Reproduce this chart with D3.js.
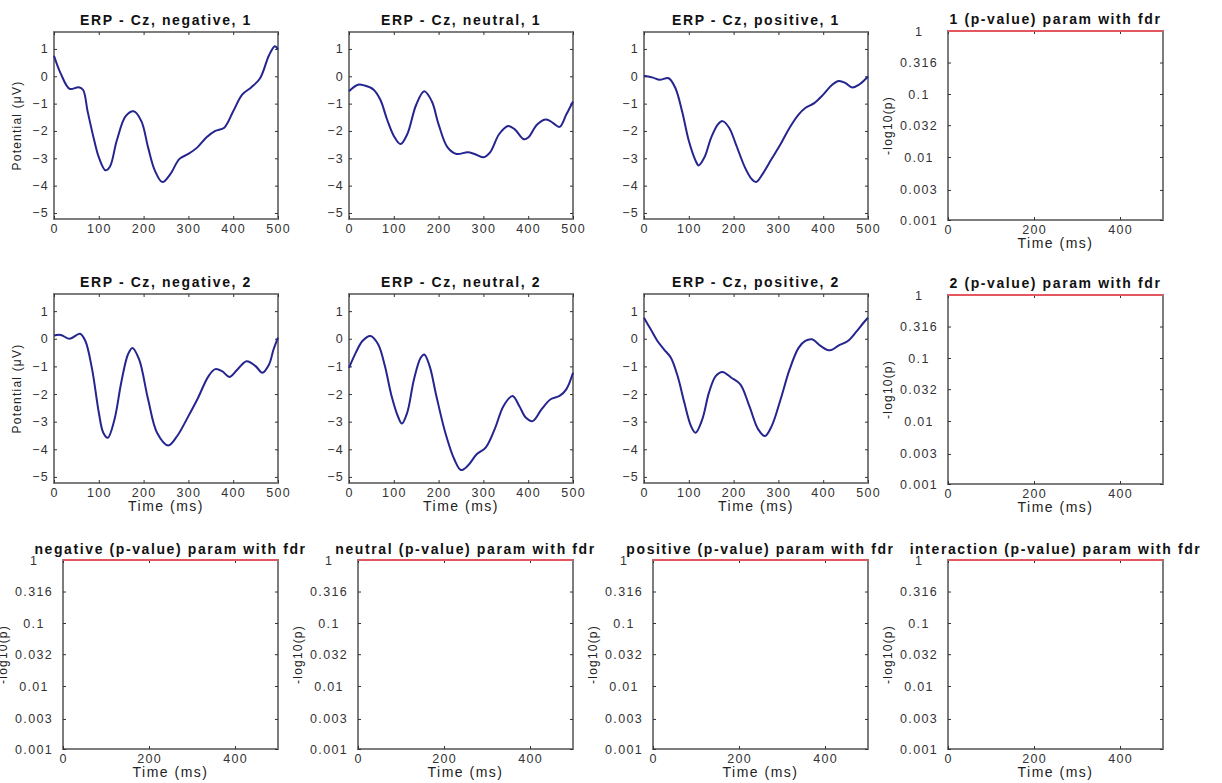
<!DOCTYPE html>
<html>
<head>
<meta charset="utf-8">
<script src="https://cdn.jsdelivr.net/npm/d3@7"></script>
<style>
  html, body { margin: 0; padding: 0; background: #fff; }
  svg { display: block; font-family: "Liberation Sans", Arial, Helvetica, sans-serif; }
  .title { font-size: 14px; font-weight: bold; letter-spacing: 1.6px; fill: #111; }
  .xlabel { font-size: 14px; letter-spacing: 1.5px; fill: #222; }
  .ylabel { font-size: 12px; letter-spacing: 1.2px; fill: #222; }
  .tick text { font-size: 12.5px; letter-spacing: 1.3px; fill: #333; font-family: "Liberation Sans", Arial, sans-serif; }
  .tick line { stroke: #333; stroke-width: 1; }
</style>
</head>
<body>
<svg id="fig" width="1222" height="783"></svg>
<script>
// ERP traces at electrode Cz, [time (ms), potential (µV)]
const negative1 = [[0,0.75],[15,0.1],[35,-0.46],[55,-0.4],[65,-0.5],[75,-1.28],[90,-2.36],[100,-2.96],[115,-3.44],[125,-3.3],[140,-2.36],[160,-1.46],[178,-1.28],[195,-1.64],[210,-2.6],[225,-3.44],[242,-3.87],[260,-3.57],[280,-3.02],[300,-2.84],[320,-2.6],[340,-2.24],[360,-2.0],[380,-1.88],[400,-1.28],[420,-0.67],[440,-0.41],[460,-0.07],[480,0.77],[493,1.1],[500,0.98]];
const neutral1 = [[0,-0.55],[20,-0.31],[35,-0.34],[55,-0.49],[70,-0.86],[85,-1.58],[100,-2.18],[115,-2.48],[130,-2.12],[150,-1.04],[168,-0.55],[185,-0.92],[200,-1.76],[220,-2.6],[240,-2.84],[265,-2.78],[280,-2.84],[300,-2.96],[315,-2.78],[335,-2.12],[355,-1.82],[370,-1.94],[390,-2.3],[400,-2.24],[420,-1.76],[440,-1.58],[455,-1.7],[470,-1.85],[485,-1.4],[500,-0.92]];
const positive1 = [[0,0.02],[20,-0.05],[35,-0.13],[55,-0.07],[70,-0.43],[85,-1.28],[100,-2.36],[115,-3.08],[122,-3.26],[135,-2.96],[150,-2.24],[165,-1.76],[175,-1.64],[190,-1.88],[205,-2.48],[225,-3.32],[240,-3.75],[250,-3.87],[265,-3.57],[285,-3.02],[305,-2.48],[325,-1.88],[345,-1.4],[360,-1.16],[380,-0.98],[400,-0.67],[420,-0.31],[435,-0.17],[450,-0.25],[465,-0.41],[480,-0.31],[500,-0.01]];
const negative2 = [[0,0.12],[15,0.14],[35,0.0],[58,0.18],[70,-0.08],[85,-1.1],[100,-2.67],[110,-3.4],[120,-3.58],[135,-2.92],[150,-1.59],[165,-0.57],[175,-0.33],[190,-0.75],[210,-2.19],[230,-3.4],[255,-3.86],[275,-3.52],[300,-2.8],[320,-2.19],[345,-1.35],[360,-1.1],[375,-1.17],[392,-1.38],[410,-1.1],[430,-0.81],[450,-0.99],[465,-1.23],[480,-0.93],[490,-0.39],[500,0.04]];
const neutral2 = [[0,-1.05],[15,-0.51],[30,-0.08],[48,0.1],[65,-0.2],[80,-0.98],[95,-2.07],[110,-2.84],[118,-3.07],[130,-2.67],[145,-1.47],[160,-0.69],[168,-0.57],[180,-0.99],[195,-2.07],[215,-3.4],[235,-4.36],[250,-4.75],[265,-4.6],[285,-4.18],[305,-3.94],[325,-3.28],[345,-2.43],[365,-2.07],[380,-2.43],[395,-2.86],[410,-2.98],[430,-2.55],[450,-2.19],[470,-2.07],[485,-1.83],[500,-1.23]];
const positive2 = [[0,0.76],[15,0.34],[30,-0.08],[45,-0.39],[60,-0.69],[75,-1.35],[90,-2.31],[105,-3.16],[115,-3.4],[130,-2.92],[145,-1.95],[160,-1.35],[175,-1.2],[195,-1.41],[215,-1.65],[235,-2.43],[255,-3.28],[270,-3.52],[285,-3.16],[305,-2.19],[325,-1.11],[345,-0.33],[360,-0.08],[375,-0.02],[395,-0.27],[415,-0.42],[435,-0.24],[455,-0.08],[475,0.28],[490,0.58],[500,0.76]];

// FDR-corrected p-values over time for each effect (nothing significant)
const pTimes = [0, 100, 200, 300, 400, 500];
const pGroup1 = [1, 1, 1, 1, 1, 1];
const pGroup2 = [1, 1, 1, 1, 1, 1];
const pNegative = [1, 1, 1, 1, 1, 1];
const pNeutral = [1, 1, 1, 1, 1, 1];
const pPositive = [1, 1, 1, 1, 1, 1];
const pInteraction = [1, 1, 1, 1, 1, 1];

// Axis ticks
const erpXTicks = [0, 100, 200, 300, 400, 500];
const erpYTicks = [1, 0, -1, -2, -3, -4, -5];
const pXTicks = [0, 200, 400];
const pYTicks = [1, 0.316, 0.1, 0.032, 0.01, 0.003, 0.001];
const pYLabels = ["1", "0.316", "0.1", "0.032", "0.01", "0.003", "0.001"];

const svg = d3.select("#fig");

function addAxes(g, x, y, w, h, xt, yt, opts) {
  g.append("rect").attr("x", 0).attr("y", 0).attr("width", w).attr("height", h)
    .attr("fill", "#fff").attr("stroke", "#7d7d7d").attr("stroke-width", 2);
  const bottom = d3.axisBottom(x).tickValues(xt).tickSize(-3).tickPadding(5.5);
  const top = d3.axisTop(x).tickValues(xt).tickSize(-3).tickFormat("");
  const left = d3.axisLeft(y).tickValues(yt).tickSize(-3).tickPadding(5);
  const right = d3.axisRight(y).tickValues(yt).tickSize(-3).tickFormat("");
  if (opts.yFormat) left.tickFormat(opts.yFormat);
  g.append("g").attr("transform", `translate(0,${h})`).call(bottom);
  g.append("g").call(top);
  const gl = g.append("g").call(left);
  g.append("g").attr("transform", `translate(${w},0)`).call(right);
  if (opts.centerY) gl.selectAll("text").attr("text-anchor", "middle").attr("x", -29);
  g.selectAll(".domain").remove();
}

const line = d3.line().curve(d3.curveCatmullRom.alpha(0.5));

// ERP panels
const erpPanels = [
  { data: negative1, title: "ERP - Cz, negative, 1", left: 54, top: 32, bottom: 219, ylab: true, xlab: false },
  { data: neutral1, title: "ERP - Cz, neutral, 1", left: 349, top: 32, bottom: 219, ylab: false, xlab: false },
  { data: positive1, title: "ERP - Cz, positive, 1", left: 644, top: 32, bottom: 219, ylab: false, xlab: false },
  { data: negative2, title: "ERP - Cz, negative, 2", left: 54, top: 294, bottom: 483, ylab: true, xlab: true },
  { data: neutral2, title: "ERP - Cz, neutral, 2", left: 349, top: 294, bottom: 483, ylab: false, xlab: true },
  { data: positive2, title: "ERP - Cz, positive, 2", left: 644, top: 294, bottom: 483, ylab: false, xlab: true }
];

erpPanels.forEach(p => {
  const w = 224, h = p.bottom - p.top;
  const x = d3.scaleLinear().domain([0, 500]).range([0, w]);
  const y = d3.scaleLinear().domain([-5.22, 1.62]).range([h, 0]);
  const g = svg.append("g").attr("transform", `translate(${p.left},${p.top})`);
  addAxes(g, x, y, w, h, erpXTicks, erpYTicks, { yFormat: d3.format("d") });
  g.append("path").datum(p.data)
    .attr("d", line.x(d => x(d[0])).y(d => y(d[1])))
    .attr("fill", "none").attr("stroke", "#25258f").attr("stroke-width", 2);
  g.append("text").attr("class", "title").attr("x", w / 2).attr("y", -7)
    .attr("text-anchor", "middle").text(p.title);
  if (p.xlab) g.append("text").attr("class", "xlabel").attr("x", w / 2).attr("y", h + 27.5)
    .attr("text-anchor", "middle").text("Time (ms)");
  if (p.ylab) g.append("text").attr("class", "ylabel")
    .attr("transform", `translate(-37,${h / 2}) rotate(-90)`).attr("dy", "0.35em")
    .attr("text-anchor", "middle").text("Potential (\u03bcV)");
});

// p-value panels
const pPanels = [
  { vals: pGroup1, title: "1 (p-value) param with fdr", left: 948, top: 31, bottom: 220, tOff: 7 },
  { vals: pGroup2, title: "2 (p-value) param with fdr", left: 948, top: 295, bottom: 484, tOff: 7 },
  { vals: pNegative, title: "negative (p-value) param with fdr", left: 63, top: 560, bottom: 749, tOff: 6 },
  { vals: pNeutral, title: "neutral (p-value) param with fdr", left: 358, top: 560, bottom: 749, tOff: 6 },
  { vals: pPositive, title: "positive (p-value) param with fdr", left: 653, top: 560, bottom: 749, tOff: 6 },
  { vals: pInteraction, title: "interaction (p-value) param with fdr", left: 948, top: 560, bottom: 749, tOff: 6 }
];

pPanels.forEach(p => {
  const w = 215, h = p.bottom - p.top;
  const x = d3.scaleLinear().domain([0, 500]).range([0, w]);
  const y = d3.scaleLog().domain([1, 0.001]).range([0, h]);
  const g = svg.append("g").attr("transform", `translate(${p.left},${p.top})`);
  addAxes(g, x, y, w, h, pXTicks, pYTicks, {
    centerY: true,
    yFormat: (d, i) => pYLabels[i]
  });
  g.append("path").datum(pTimes.map((t, i) => [t, p.vals[i]]))
    .attr("d", d3.line().x(d => x(d[0])).y(d => y(d[1])))
    .attr("fill", "none").attr("stroke", "#e2585e").attr("stroke-width", 2.2);
  g.append("text").attr("class", "title").attr("x", w / 2).attr("y", -p.tOff)
    .attr("text-anchor", "middle").text(p.title);
  g.append("text").attr("class", "xlabel").attr("x", w / 2).attr("y", h + 27.5)
    .attr("text-anchor", "middle").text("Time (ms)");
  g.append("text").attr("class", "ylabel")
    .attr("transform", `translate(-60,${h / 2}) rotate(-90)`).attr("dy", "0.35em")
    .attr("text-anchor", "middle").text("-log10(p)");
});
</script>
</body>
</html>
